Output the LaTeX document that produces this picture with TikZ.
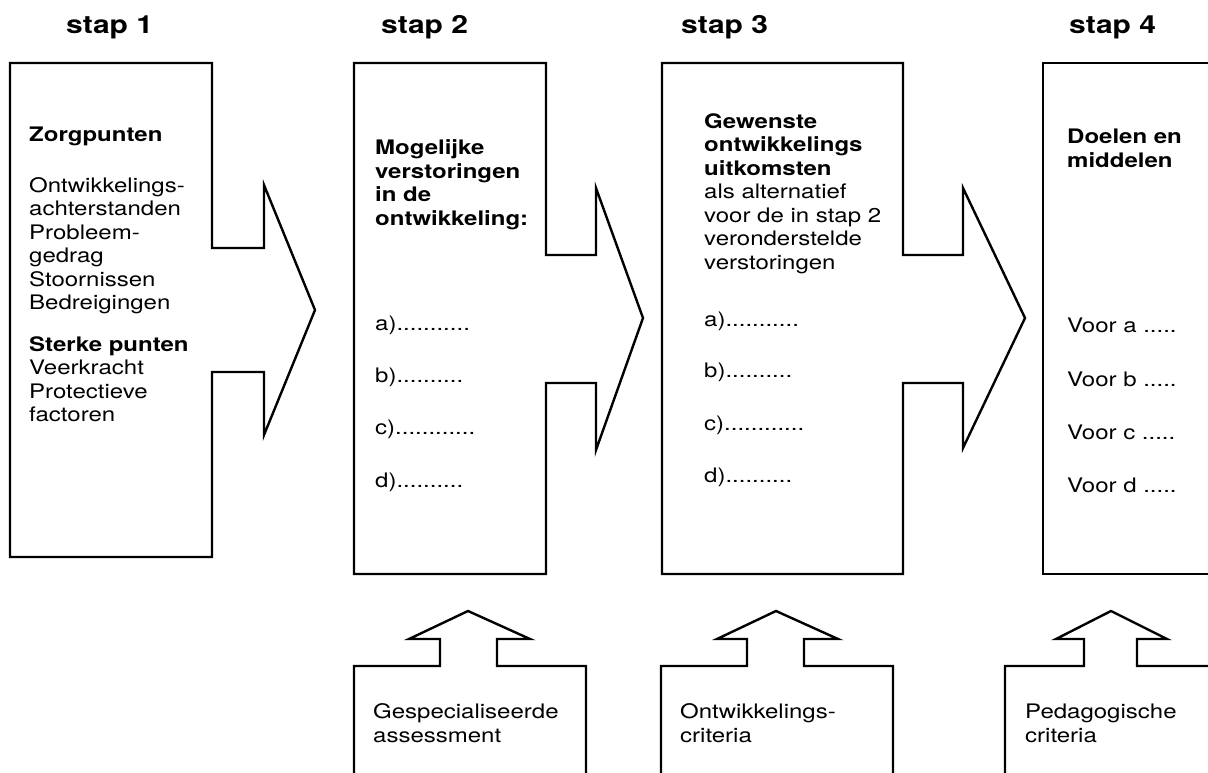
\documentclass[tikz,border=0pt]{standalone}
\usepackage{fontspec}
\setmainfont{TeX Gyre Heros}[FakeStretch=1.2]
\usepackage{tikz}

\begin{document}
\begin{tikzpicture}[x=1pt,y=-1pt]

		\tikzset{kader/.style = {draw, line width=2.4pt, line join=miter}}
		\tikzset{titel/.style = {anchor=base west, inner sep=0pt, font=\fontsize{25}{29}\selectfont\bfseries}}
		% base = basislijn van de laatste regel
		\tikzset{tekst/.style = {anchor=base west, inner sep=0pt, align=left, font=\fontsize{20}{23.5}\selectfont}}
		\clip (0,0) rectangle (1208,773);

		%titels
		\node[titel] (stap1) at (66,34) {stap 1};
		\node[titel] (stap2) at (381,34) {stap 2};
		\node[titel] (stap3) at (681,34) {stap 3};
		\node[titel] (stap4) at (1069,34) {stap 4};

		%kaders met pijl naar rechts
		\draw[kader] (10,63) -- (212,63) -- (212,248) -- (264,248) -- (264,185) -- (315,310)
			-- (264,435) -- (264,372) -- (212,372) -- (212,557) -- (10,557) -- cycle;
		\draw[kader] (354,63) -- (546,63) -- (546,255) -- (596,255) -- (596,188) -- (643,318)
			-- (596,450) -- (596,383) -- (546,383) -- (546,574) -- (354,574) -- cycle;
		\draw[kader] (662,63) -- (903,63) -- (903,255) -- (963,255) -- (963,188) -- (1025,318)
			-- (963,448) -- (963,383) -- (903,383) -- (903,574) -- (662,574) -- cycle;
		\draw[kader] (1043,63) rectangle (1240,574);

		%kaders met pijl omhoog
		\draw[kader] (354,800) -- (354,666) -- (440,666) -- (440,639) -- (409,639) -- (468,611)
			-- (530,639) -- (497,639) -- (497,666) -- (586,666) -- (586,800);
		\draw[kader] (661,800) -- (661,666) -- (747,666) -- (747,639) -- (717,639) -- (776,611)
			-- (838,639) -- (804,639) -- (804,666) -- (893,666) -- (893,800);
		\draw[kader] (1005,800) -- (1005,666) -- (1084,666) -- (1084,639) -- (1056,639) -- (1111,611)
			-- (1167,639) -- (1137,639) -- (1137,666) -- (1240,666);

		%stap 1
		\node[tekst] (zorg) at (29,142) {\textbf{Zorgpunten}};
		\node[tekst] (achterstand) at (29,309.5) {Ontwikkelings-\\ achterstanden\\ Probleem-\\ gedrag\\ Stoornissen\\ Bedreigingen};
		\node[tekst] (sterk) at (29,421.5) {\textbf{Sterke punten}\\ Veerkracht\\ Protectieve\\ factoren};

		%stap 2
		\node[tekst] (verstoring) at (375,225.5) {\textbf{Mogelijke}\\ \textbf{verstoringen}\\ \textbf{in de}\\ \textbf{ontwikkeling:}};
		\node[tekst] (va) at (375,330) {a)...........};
		\node[tekst] (vb) at (375,382) {b)..........};
		\node[tekst] (vc) at (375,434) {c)............};
		\node[tekst] (vd) at (375,487) {d)..........};

		%stap 3
		\node[tekst] (gewenst) at (704,269) {\textbf{Gewenste}\\ \textbf{ontwikkelings}\\ \textbf{uitkomsten}\\ als alternatief\\ voor de in stap 2\\ veronderstelde\\ verstoringen};
		\node[tekst] (ua) at (704,326) {a)...........};
		\node[tekst] (ub) at (704,377) {b)..........};
		\node[tekst] (uc) at (704,430) {c)............};
		\node[tekst] (ud) at (704,482) {d)..........};

		%stap 4
		\node[tekst] (doelen) at (1067,167.5) {\textbf{Doelen en}\\ \textbf{middelen}};
		\node[tekst] (da) at (1067,332) {Voor a .....};
		\node[tekst] (db) at (1067,386) {Voor b .....};
		\node[tekst] (dc) at (1067,439) {Voor c .....};
		\node[tekst] (dd) at (1067,492) {Voor d .....};

		%criteria
		\node[tekst] (assess) at (373,742) {Gespecialiseerde\\ assessment};
		\node[tekst] (ocrit) at (680,742) {Ontwikkelings-\\ criteria};
		\node[tekst] (pcrit) at (1025,742) {Pedagogische\\ criteria};
		\end{tikzpicture}
\end{document}
